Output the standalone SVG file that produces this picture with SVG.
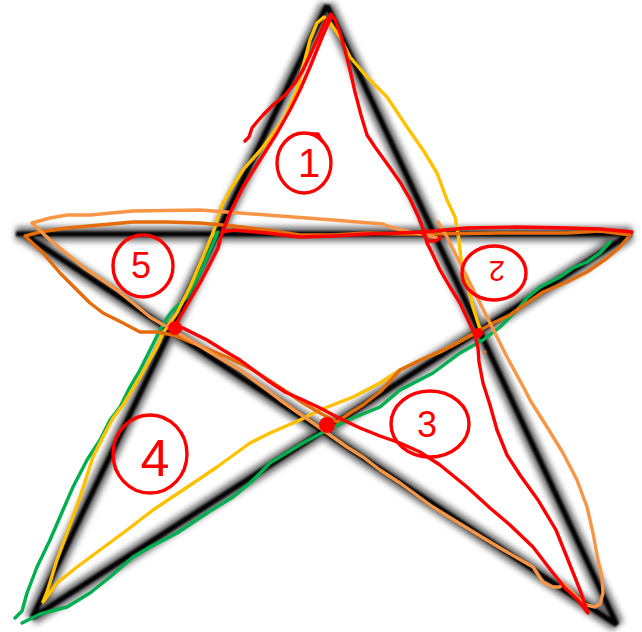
<svg xmlns="http://www.w3.org/2000/svg" width="642" height="632" viewBox="0 0 642 632">
<defs>
<filter id="halo" x="-10%" y="-10%" width="120%" height="120%"><feGaussianBlur stdDeviation="3"/></filter>
<filter id="soft" x="-10%" y="-10%" width="120%" height="120%"><feGaussianBlur stdDeviation="0.9"/></filter>
<style>
.star{fill:none;stroke:#000;stroke-linecap:butt}
.pen{fill:none;stroke-width:3.4;stroke-linecap:round;stroke-linejoin:round}
.red{stroke:#ff0000}
.yel{stroke:#ffc000}
.grn{stroke:#00b050}
.dor{stroke:#e46c0a}
.lor{stroke:#f79646}
.num{font-family:"Liberation Sans",Arial,sans-serif;fill:#ff0000;text-anchor:middle}
</style>
</defs>
<rect width="642" height="632" fill="#fff"/>
<g id="star">
<g filter="url(#halo)" class="star" stroke-width="14" stroke-opacity="0.6">
<path d="M327,5 L32,618 M327,5 L617,625 M16,234 L632,234 M25,235 L617,625 M630,234 L32,618"/>
</g>
<g filter="url(#soft)" class="star" stroke-width="5.2">
<path d="M327,5 L32,618 M327,5 L617,625 M16,234 L632,234 M25,235 L617,625 M630,234 L32,618"/>
</g>
</g>
<g id="connectors">
<path id="green" class="pen grn" d="M214,236 L218,232 L210,250 L200,273 L187,297 L173,310 L167,318 L160,330 L150,350 L140,370 L130,387 L120,407 L110,420 L100,440 L87,460 L73,487 L63,510 L50,540 L37,567 L27,593 L22,611 L15,618 M22,623 L40,614 L67,607 L90,593 L110,577 L133,557 L150,547 L177,533 L207,513 L233,497 L250,483 L270,463 L303,443 L327,430 L353,418 L380,407 L400,390 L433,373 L460,353 L483,340 L500,327 L517,310 L527,298 L540,287 L560,277 L573,268 L587,262 L600,253 L610,242"/>
<path id="yellow" class="pen yel" d="M43,602 L47,592 L57,560 L67,533 L80,497 L93,457 L103,437 L113,418 L123,405 L140,377 L157,347 L163,333 L177,313 L190,287 L203,257 L213,233 L222,205 L230,190 L243,170 L263,147 L283,120 L297,90 L303,67 L310,40 L317,23 L324,17 L328,20 L340,37 L350,57 L367,77 L387,97 L407,127 L423,150 L437,173 L447,200 L455,217 L458,233 L462,267 L468,287 L473,307 L478,323 L480,329 L475,333 L457,343 L440,352 L420,360 L400,370 L380,383 L353,397 L320,410 L300,420 L270,433 L250,443 L217,467 L183,490 L153,510 L127,530 L100,550 L77,567 L57,583 Z"/>
<path id="darkorange" class="pen dor" d="M25,236 L40,232 L67,228 L100,225 L133,222 L167,222 L200,223 L233,226 L267,230 L300,235 L333,235 L367,233 L400,234 L433,234 L500,233 L567,233 L600,231 L630,235 L620,247 L607,258 L587,272 L567,282 L543,292 L527,303 L510,315 L493,323 L477,332 L450,347 L427,357 L400,370 L380,392 L363,405 L350,413 L337,422 L320,413 L303,403 L287,392 L253,370 L227,357 L200,346 L173,335 L157,332 L140,332 L123,323 L103,313 L90,303 L77,290 L60,273 L43,253 Z"/>
<circle cx="485" cy="352" r="1.8" fill="#e46c0a"/>
<path id="lightorange" class="pen lor" d="M437,238 L427,235 L410,232 L390,227 L383,224 L333,220 L267,215 L200,210 L133,211 L90,215 L67,215 L50,218 L32,223 L50,240 L83,267 L117,290 L150,317 L160,323 L190,340 L223,360 L240,370 L267,390 L280,400 L297,412 L313,423 L330,435 L347,447 L363,457 L380,470 L400,483 L433,507 L467,528 L500,548 L533,567 L543,582 L553,587 L560,587 L563,583 L570,590 L577,597 L587,605 L595,607 L600,604 L603,593 L602,577 L598,560 L593,533 L587,507 L577,480 L563,453 L547,427 L530,400 L525,390 L507,357 L497,337 L487,317 L477,297 L467,277 L457,257 L447,237 L438,222"/>
<path id="red-outer" class="pen red" d="M245,141 L249,137 L252,128 L256,123 L263,115 L273,105 L285,95 L295,83 L303,70 L310,55 L318,38 L325,22 L331,14 L335,20 L340,33 L345,50 L350,70 L355,92 L361,115 L367,135 L375,147 L388,165 L400,182 L410,199 L418,216 L424,231 L427,243 L432,253 L440,270 L450,287 L460,303 L469,322 L475,335 L478,348 L479,362 L483,383 L490,405 L497,430 L507,455 L520,475 L538,500 L556,530 L570,565 L580,590 L588,613"/>
<path id="red-inner" class="pen red" d="M331,17 L323,35 L310,67 L300,90 L290,110 L277,133 L260,160 L243,187 L230,213 L222,233 L218,248 L212,260 L200,283 L190,300 L180,317 L174,327 L183,328 L195,334 L207,340 L223,350 L240,360 L267,380 L285,392 L303,400 L320,408 L337,417 L360,428 L380,436 L400,443 L420,452 L440,465 L467,487 L490,508 L510,525 L533,547 L553,573 L565,588 L578,600 L587,612"/>
<path id="red-top" class="pen red" d="M222,232 L233,230 L267,233 L300,237 L333,236 L367,234 L400,233 L423,232 L467,228 L517,227 L567,228 L600,229 L632,232 M423,234 L428,241 L436,241 L441,237"/>
<circle cx="175" cy="328" r="7" fill="#ff0000"/>
<circle cx="327" cy="425" r="8" fill="#ff0000"/>
<circle cx="478" cy="333" r="5" fill="#ff0000"/>
</g>
<g id="label-1">
<ellipse cx="304" cy="163" rx="27" ry="30" class="pen red"/>
<path class="pen red" d="M312,134 L318,134 L322,141"/>
<text x="309" y="177" font-size="40" class="num">1</text>
</g>
<g id="label-2">
<ellipse cx="494" cy="273" rx="32" ry="27" class="pen red"/>
<text x="497" y="283" font-size="29" class="num" transform="rotate(180 497 272)">2</text>
</g>
<g id="label-3">
<ellipse cx="430" cy="424" rx="39" ry="33" class="pen red"/>
<text x="427" y="437" font-size="36" class="num">3</text>
</g>
<g id="label-4">
<ellipse cx="150" cy="454" rx="37" ry="39" class="pen red"/>
<text x="155" y="476" font-size="52" class="num">4</text>
</g>
<g id="label-5">
<ellipse cx="143" cy="266" rx="30" ry="31" class="pen red"/>
<text x="141" y="278" font-size="36" class="num">5</text>
</g>
</svg>
